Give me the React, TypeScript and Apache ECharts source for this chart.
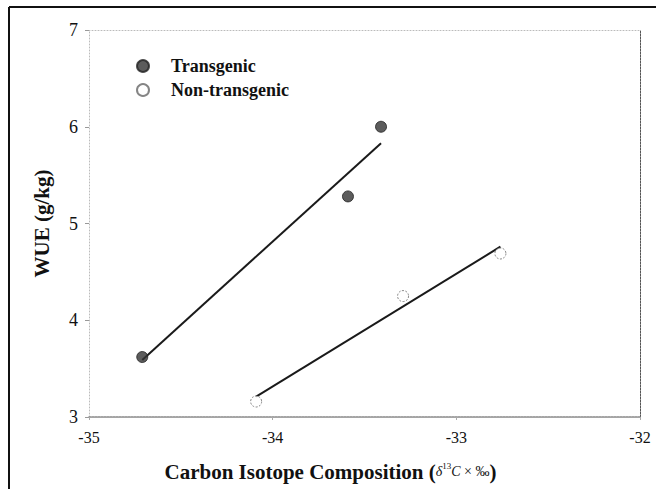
import React, { useEffect, useRef } from "react";
import * as echarts from "echarts";

const transgenicX = [-34.71, -33.59, -33.41];
const transgenicY = [3.62, 5.28, 6.0];
const nonTransgenicX = [-34.09, -33.29, -32.76];
const nonTransgenicY = [3.16, 4.25, 4.69];
// fitted line endpoints
const transgenicFitX = [-34.71, -33.41];
const transgenicFitY = [3.59, 5.83];
const nonTransgenicFitX = [-34.09, -32.76];
const nonTransgenicFitY = [3.21, 4.76];
const xTicks = [-35, -34, -33, -32];
const yTicks = [3, 4, 5, 6, 7];

const SERIF = "'Liberation Serif', 'Times New Roman', serif";

const pairs = (xs: number[], ys: number[]) => xs.map((x, i) => [x, ys[i]]);

export default function App() {
  const ref = useRef<HTMLDivElement>(null);
  useEffect(() => {
    document.body.style.margin = "0";
    if (!ref.current) return;
    const chart = echarts.init(ref.current, null, { renderer: "svg" });
    chart.setOption({
      animation: false,
      backgroundColor: "#ffffff",
      grid: { left: 89, right: 16, top: 30, bottom: 72 },
      legend: {
        left: 131,
        top: 51,
        orient: "vertical",
        itemWidth: 12,
        itemHeight: 12,
        itemGap: 4,
        icon: "circle",
        data: ["Transgenic", "Non-transgenic"],
        textStyle: {
          fontFamily: SERIF,
          fontWeight: "bold",
          fontSize: 18,
          lineHeight: 20,
          color: "#111",
          padding: [0, 0, 0, 17],
        },
      },
      xAxis: [
        {
          type: "value",
          min: xTicks[0],
          max: xTicks[xTicks.length - 1],
          interval: 1,
          splitLine: { show: false },
          axisLine: { lineStyle: { color: "#888", type: [2, 1], width: 1.5 } },
          axisTick: { show: true, inside: false, length: 3, lineStyle: { color: "#aaa" } },
          axisLabel: { fontFamily: SERIF, fontSize: 16, color: "#111", margin: 12 },
          name: "{b|Carbon Isotope Composition (}{i|δ}{s|13}{i|C}{m| × ‰}{b|)}",
          nameLocation: "middle",
          nameGap: 44,
          nameTextStyle: {
            padding: [0, 68, 0, 0],
            rich: {
              b: { fontFamily: SERIF, fontWeight: "bold", fontSize: 21, color: "#111" },
              i: { fontFamily: SERIF, fontStyle: "italic", fontSize: 14, color: "#111" },
              m: { fontFamily: SERIF, fontSize: 14, color: "#111" },
              s: { fontFamily: SERIF, fontSize: 9, color: "#111", verticalAlign: "top", padding: [0, 0, 8, 0] },
            },
          },
        },
        {
          type: "value",
          position: "top",
          min: xTicks[0],
          max: xTicks[xTicks.length - 1],
          interval: 1,
          splitLine: { show: false },
          axisLine: { show: true, lineStyle: { color: "#bbb", type: [1, 2], width: 1 } },
          axisTick: { show: false },
          axisLabel: { show: false },
        },
      ],
      yAxis: [
        {
          type: "value",
          min: yTicks[0],
          max: yTicks[yTicks.length - 1],
          interval: 1,
          splitLine: { show: false },
          axisLine: { show: true, lineStyle: { color: "#bbb", type: [1, 2], width: 1 } },
          axisTick: { show: true, length: 4, lineStyle: { color: "#999" } },
          axisLabel: { fontFamily: SERIF, fontSize: 18, color: "#111", margin: 11 },
          name: "WUE (g/kg)",
          nameLocation: "middle",
          nameRotate: 90,
          nameGap: 37,
          nameTextStyle: { fontFamily: SERIF, fontWeight: "bold", fontSize: 21, color: "#111" },
        },
        {
          type: "value",
          position: "right",
          min: yTicks[0],
          max: yTicks[yTicks.length - 1],
          interval: 1,
          splitLine: { show: false },
          axisLine: { show: true, lineStyle: { color: "#555", type: [2, 1], width: 1 } },
          axisTick: { show: false },
          axisLabel: { show: false },
        },
      ],
      graphic: [
        { type: "line", shape: { x1: 9, y1: 7, x2: 656, y2: 7 }, style: { stroke: "#111", lineWidth: 2 } },
        { type: "line", shape: { x1: 9, y1: 7, x2: 9, y2: 489 }, style: { stroke: "#111", lineWidth: 2 } },
      ],
      series: [
        {
          name: "Transgenic fit",
          type: "line",
          data: pairs(transgenicFitX, transgenicFitY),
          showSymbol: false,
          lineStyle: { color: "#1a1a1a", width: 2 },
          silent: true,
          z: 2,
        },
        {
          name: "Non-transgenic fit",
          type: "line",
          data: pairs(nonTransgenicFitX, nonTransgenicFitY),
          showSymbol: false,
          lineStyle: { color: "#1a1a1a", width: 2 },
          silent: true,
          z: 2,
        },
        {
          name: "Transgenic",
          type: "scatter",
          data: pairs(transgenicX, transgenicY),
          symbol: "circle",
          symbolSize: 11,
          itemStyle: { color: "#333", borderColor: "#222", borderWidth: 1 },
          z: 3,
        },
        {
          name: "Non-transgenic",
          type: "scatter",
          data: pairs(nonTransgenicX, nonTransgenicY),
          symbol: "circle",
          symbolSize: 11,
          itemStyle: { color: "#fff", borderColor: "#666", borderWidth: 1, borderType: [2, 1.5] },
          z: 3,
        },
      ],
    });
    return () => chart.dispose();
  }, []);
  return <div ref={ref} style={{ width: 656, height: 489 }} />;
}
